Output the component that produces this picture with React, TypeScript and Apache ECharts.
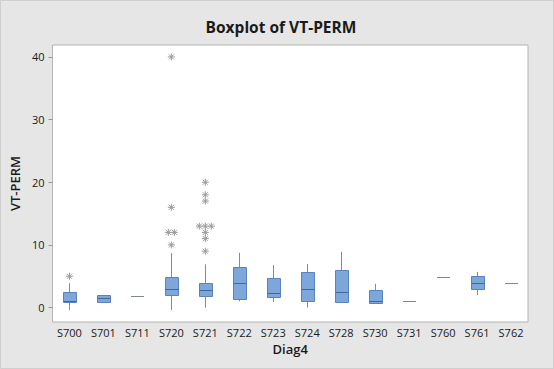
import React, { useEffect, useRef } from "react";
import * as echarts from "echarts";

const categories = ["S700", "S701", "S711", "S720", "S721", "S722", "S723", "S724", "S728", "S730", "S731", "S760", "S761", "S762"];
const whiskerLow = [-0.4, 0.8, 1.8, -0.4, 0, 1.0, 0.9, 0, 0.8, 0.8, 0.9, 4.8, 2.0, 3.9];
const q1 = [0.8, 0.8, 1.8, 1.9, 1.85, 1.3, 1.7, 1.05, 0.85, 0.8, 0.9, 4.8, 2.8, 3.9];
const medians = [1.0, 1.4, 1.8, 2.9, 2.8, 3.9, 2.3, 2.9, 2.4, 0.9, 0.9, 4.8, 3.9, 3.9];
const q3 = [2.4, 1.85, 1.8, 4.8, 3.9, 6.35, 4.7, 5.6, 5.9, 2.8, 0.9, 4.8, 4.9, 3.9];
const whiskerHigh = [3.9, 1.85, 1.8, 8.7, 6.9, 8.75, 6.8, 6.95, 8.9, 3.8, 0.9, 4.8, 5.7, 3.9];

const outlierCategory = ["S700", "S720", "S720", "S720", "S720", "S720", "S721", "S721", "S721", "S721", "S721", "S721", "S721", "S721", "S721"];
const outlierValue = [5, 10, 12, 12, 16, 40, 9, 11, 12, 13, 13, 13, 17, 18, 20];

const yTicks = [0, 10, 20, 30, 40];

const FONT = "'Open Sans', 'Noto Sans', sans-serif";

export default function App() {
  const ref = useRef<HTMLDivElement>(null);
  useEffect(() => {
    if (!ref.current) return;
    const chart = echarts.init(ref.current, null, { renderer: "svg" });

    const boxData = categories.map((_, i) => [i, whiskerLow[i], q1[i], medians[i], q3[i], whiskerHigh[i]]);

    // spread duplicate outliers horizontally
    const counts: Record<string, number> = {};
    outlierCategory.forEach((c, i) => {
      const k = c + "|" + outlierValue[i];
      counts[k] = (counts[k] || 0) + 1;
    });
    const seen: Record<string, number> = {};
    const outData = outlierCategory.map((c, i) => {
      const k = c + "|" + outlierValue[i];
      const r = seen[k] || 0;
      seen[k] = r + 1;
      const shift = r - (counts[k] - 1) / 2;
      return [categories.indexOf(c), outlierValue[i], shift];
    });

    const crisp = (v: number) => Math.round(v - 0.5) + 0.5;
    const boxFill = "#7da6da";
    const boxEdge = "#5a83bd";
    const whisk = "#7d8ca3";

    chart.setOption({
      animation: false,
      backgroundColor: "#e6e6e6",
      title: {
        text: "Boxplot of VT-PERM",
        left: 276,
        top: 14,
        textAlign: "center",
        textStyle: { fontFamily: FONT, fontSize: 15.5, fontWeight: "bold", color: "#1a1a1a" },
      },
      grid: {
        left: 52,
        right: 26,
        top: 45,
        bottom: 47,
        show: true,
        backgroundColor: "#ffffff",
        borderColor: "#b4b4b4",
        borderWidth: 1,
      },
      xAxis: {
        type: "category",
        data: categories,
        name: "Diag4",
        nameLocation: "middle",
        nameGap: 18,
        nameTextStyle: { fontFamily: FONT, fontSize: 13, color: "#1a1a1a", fontWeight: 600 },
        axisLine: { show: false },
        axisTick: { show: false },
        axisLabel: { fontFamily: FONT, fontSize: 11, color: "#1a1a1a", margin: 5, interval: 0 },
        splitLine: { show: false },
      },
      yAxis: {
        type: "value",
        min: -2.3,
        max: 41.9,
        name: "VT-PERM",
        nameLocation: "middle",
        nameGap: 25,
        nameTextStyle: { fontFamily: FONT, fontSize: 13, color: "#1a1a1a", fontWeight: 600 },
        axisLine: { show: false },
        axisTick: { show: true, length: 4, customValues: yTicks, lineStyle: { color: "#9a9a9a" } },
        axisLabel: { fontFamily: FONT, fontSize: 11, color: "#1a1a1a", margin: 8, customValues: yTicks },
        splitLine: { show: false },
      },
      graphic: [
        {
          type: "rect",
          shape: { x: 0.5, y: 0.5, width: 553, height: 368 },
          style: { fill: "none", stroke: "#cfcfcf", lineWidth: 1 },
          silent: true,
        },
      ],
      series: [
        {
          type: "custom",
          data: boxData,
          encode: { x: 0, y: [1, 2, 3, 4, 5] },
          renderItem: (params: any, api: any) => {
            const idx = api.value(0);
            const pMin = api.coord([idx, api.value(1)]);
            const pQ1 = api.coord([idx, api.value(2)]);
            const pMed = api.coord([idx, api.value(3)]);
            const pQ3 = api.coord([idx, api.value(4)]);
            const pMax = api.coord([idx, api.value(5)]);
            const bw = 13;
            const cx = crisp(pQ1[0]);
            const x0 = Math.round(pQ1[0] - bw / 2);
            const children: any[] = [];
            const h = pQ1[1] - pQ3[1];
            if (h < 1) {
              children.push({
                type: "line",
                shape: { x1: x0, y1: crisp(pMed[1]), x2: x0 + bw, y2: crisp(pMed[1]) },
                style: { stroke: "#7f8796", lineWidth: 1 },
              });
              return { type: "group", children };
            }
            if (pMax[1] < pQ3[1] - 0.5) {
              children.push({
                type: "line",
                shape: { x1: cx, y1: pMax[1], x2: cx, y2: pQ3[1] },
                style: { stroke: whisk, lineWidth: 1 },
              });
            }
            if (pMin[1] > pQ1[1] + 0.5) {
              children.push({
                type: "line",
                shape: { x1: cx, y1: pQ1[1], x2: cx, y2: pMin[1] },
                style: { stroke: whisk, lineWidth: 1 },
              });
            }
            children.push({
              type: "rect",
              shape: { x: x0 + 0.5, y: crisp(pQ3[1]), width: bw, height: Math.round(h) },
              style: { fill: boxFill, stroke: boxEdge, lineWidth: 1 },
            });
            children.push({
              type: "line",
              shape: { x1: x0 + 0.5, y1: crisp(pMed[1]), x2: x0 + bw + 0.5, y2: crisp(pMed[1]) },
              style: { stroke: "#3f689f", lineWidth: 1 },
            });
            return { type: "group", children };
          },
          z: 2,
        },
        {
          type: "custom",
          data: outData,
          encode: { x: 0, y: 1 },
          renderItem: (params: any, api: any) => {
            const p = api.coord([api.value(0), api.value(1)]);
            const x = p[0] + api.value(2) * 6;
            const y = p[1];
            const r = 3.5;
            const d = 2.5;
            const st = { stroke: "#9a9a9a", lineWidth: 1 };
            return {
              type: "group",
              children: [
                { type: "line", shape: { x1: x - r, y1: y, x2: x + r, y2: y }, style: st },
                { type: "line", shape: { x1: x, y1: y - r, x2: x, y2: y + r }, style: st },
                { type: "line", shape: { x1: x - d, y1: y - d, x2: x + d, y2: y + d }, style: st },
                { type: "line", shape: { x1: x - d, y1: y + d, x2: x + d, y2: y - d }, style: st },
              ],
            };
          },
          z: 3,
        },
      ],
    });
    return () => chart.dispose();
  }, []);
  return <div ref={ref} style={{ position: "fixed", left: 0, top: 0, width: 554, height: 369 }} />;
}
